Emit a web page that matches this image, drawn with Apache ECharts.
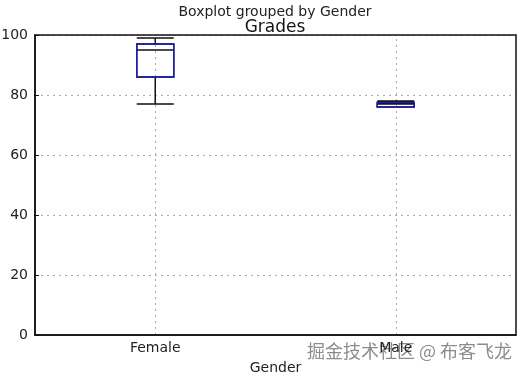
<!DOCTYPE html>
<html lang="en">
<head>
    <meta charset="UTF-8">
    <style>
    html, body { height: 100%; margin: 0; background: #fff; }
    </style>
</head>
<body>
<div id="chart" style="width:520px;height:376px;"></div>
<script src="https://cdn.jsdelivr.net/npm/echarts@6/dist/echarts.min.js"></script>
<script>
    // grades per gender: [min, Q1, median, Q3, max]
    var genders = ['Female', 'Male'];
    var femaleStats = [77, 86, 95, 97, 99];
    var maleStats = [76, 76, 77, 77.5, 78];
    var yTicks = [0, 20, 40, 60, 80, 100];

    var stats = [femaleStats, maleStats];
    // blue box only (Q1..Q3), drawn over the black whiskers
    var boxOnly = stats.map(s => [s[1], s[1], s[3], s[3], s[3]]);

    var myChart = echarts.init(document.getElementById('chart'));
    var font = 'DejaVu Sans';
    var grid = { color: '#aaa', type: [2, 4], width: 1 };
    myChart.setOption({
        animation: false,
        title: [
            { text: 'Boxplot grouped by Gender', left: 270, textAlign: 'center', top: 0,
              textStyle: { fontFamily: font, fontSize: 14, fontWeight: 'normal', color: '#222' } },
            { text: 'Grades', left: 270, textAlign: 'center', top: 14,
              textStyle: { fontFamily: font, fontSize: 17, fontWeight: 'normal', color: '#111' } }
        ],
        grid: { left: 35, top: 35, width: 481, height: 300, outerBoundsMode: 'none', containLabel: false },
        xAxis: [{
            type: 'category',
            data: genders,
            name: 'Gender',
            nameLocation: 'middle',
            nameGap: 26,
            nameTextStyle: { fontFamily: font, fontSize: 14, color: '#222' },
            axisLine: { lineStyle: { color: '#111', width: 1.5 } },
            axisTick: { inside: true, alignWithLabel: true, length: 4, lineStyle: { color: '#111' } },
            axisLabel: { fontFamily: font, fontSize: 14, color: '#222', margin: 6 },
            splitLine: { show: false }
        }, {
            type: 'category',
            data: genders,
            show: false
        }],
        yAxis: {
            type: 'value',
            min: yTicks[0],
            max: yTicks[yTicks.length - 1],
            interval: 20,
            axisLine: { show: true, lineStyle: { color: '#111', width: 1.5 } },
            axisTick: { show: true, inside: true, length: 4, lineStyle: { color: '#111' } },
            axisLabel: { fontFamily: font, fontSize: 14, color: '#222', margin: 7 },
            splitLine: { show: true, lineStyle: grid }
        },
        graphic: [
            { type: 'rect', shape: { x: 35, y: 35, width: 481, height: 300 }, silent: true, z: 10,
              style: { fill: 'none', stroke: '#111', lineWidth: 1.5 } },
            { type: 'text', left: 307, top: 342,
              style: { text: '掘金技术社区 @ 布客飞龙', fontFamily: 'Noto Sans CJK SC', fontSize: 18, fill: 'rgba(120,120,120,0.85)' } }
        ],
        series: [{
            type: 'boxplot',
            xAxisIndex: 0,
            data: stats,
            boxWidth: [37, 37],
            itemStyle: { color: 'transparent', borderColor: '#111', borderWidth: 1.5 },
            markLine: {
                silent: true,
                symbol: 'none',
                label: { show: false },
                lineStyle: grid,
                z: 1,
                data: genders.map(g => ({ xAxis: g }))
            }
        }, {
            type: 'boxplot',
            xAxisIndex: 1,
            data: boxOnly,
            boxWidth: [37, 37],
            itemStyle: { color: 'transparent', borderColor: '#1c1cb8', borderWidth: 1.5 }
        }]
    });
</script>
</body>
</html>
